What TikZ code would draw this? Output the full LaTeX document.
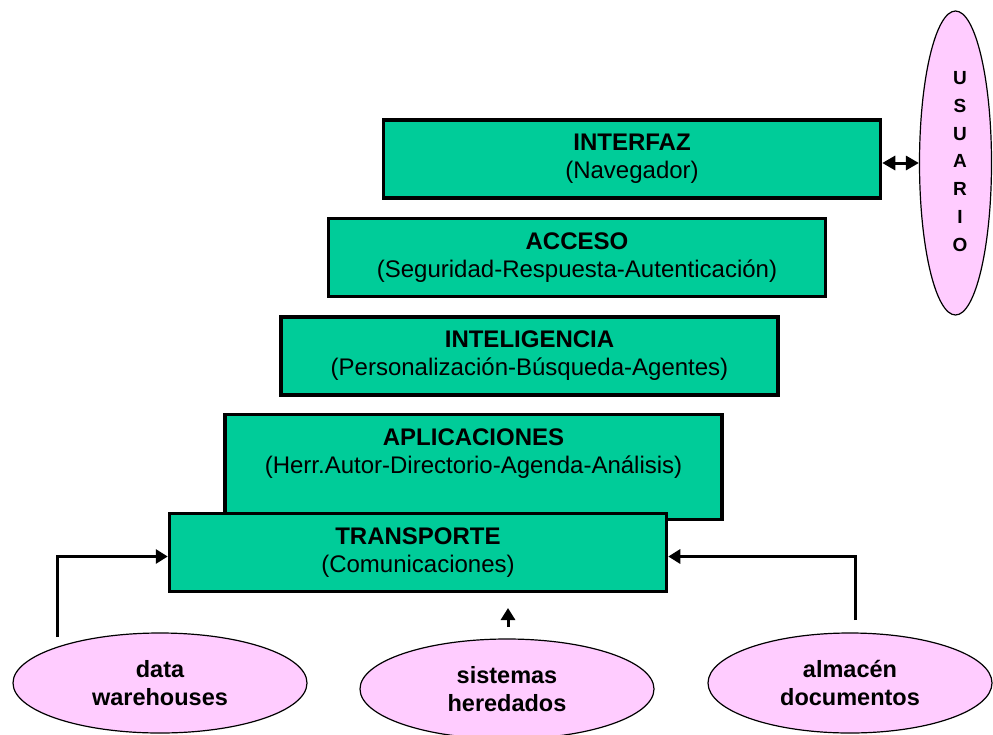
\documentclass[tikz,border=0pt]{standalone}
\usepackage{fontspec}
\setmainfont{Liberation Sans}
\usetikzlibrary{arrows.meta,shapes.geometric}
\definecolor{layergreen}{HTML}{00CC99}
\definecolor{pinkfill}{HTML}{FFCCFF}
\begin{document}
\begin{tikzpicture}[x=1pt,y=-1pt,
  layer/.style={draw=black, line width=3.5pt, fill=layergreen, rectangle, inner sep=0pt,
    minimum width=497pt, minimum height=78pt, align=center,
    font=\fontsize{24}{28}\selectfont},
  layertext/.style={align=center, inner sep=0pt, font=\fontsize{24}{28}\selectfont},
  src/.style={ellipse, draw=black, line width=1.2pt, fill=pinkfill, inner sep=0pt,
    minimum width=294pt, minimum height=100pt, align=center,
    font=\fontsize{23.5}{28}\selectfont\bfseries},
  conn/.style={line width=3pt, -{Triangle[length=12pt,width=14pt]}},
  dconn/.style={line width=3pt, {Triangle[length=13pt,width=14pt]}-{Triangle[length=13pt,width=14pt]}},
]
\useasboundingbox (0,0) rectangle (993,734);

% layers
\node[layer] (interfaz) at (632,159) {{\bfseries INTERFAZ}\\(Navegador)};
\node[layer] (acceso) at (577,257.5) {{\bfseries ACCESO}\\(Seguridad-Respuesta-Autenticación)};
\node[layer] (intel) at (529.5,356) {{\bfseries INTELIGENCIA}\\(Personalización-Búsqueda-Agentes)};
\node[layer, minimum height=105pt] (apl) at (473.5,467) {};
\node[layertext] (aplt) at (473.5,454) {{\bfseries APLICACIONES}\\(Herr.Autor-Directorio-Agenda-Análisis)};
\node[layer] (trans) at (418,552.5) {{\bfseries TRANSPORTE}\\(Comunicaciones)};

% user
\node[ellipse, draw=black, line width=1.2pt, fill=pinkfill, minimum width=72pt, minimum height=304pt, inner sep=0pt] (usuario) at (955.5,163) {};
\node[align=center, inner sep=0pt, font=\fontsize{19}{27.8}\selectfont\bfseries] (usuariot) at (960,161.5) {U\\S\\U\\A\\R\\I\\O};
\draw[dconn] ([yshift=-4pt]interfaz.east) -- (usuario.west);

% sources
\node[src] (dw) at (160,683) {data\\warehouses};
\node[src] (sis) at (507,689) {sistemas\\heredados};
\node[src, minimum width=284pt] (alm) at (850,683) {almacén\\documentos};

\coordinate (dwtail) at (57,637);
\coordinate (almtail) at (855,620);
\coordinate (sistail) at (508,627);
\coordinate (sistip) at (508,608);
\draw[conn] (dwtail) |- ([yshift=-4pt]trans.west);
\draw[conn] (almtail) |- ([yshift=-4pt]trans.east);
\draw[conn] (sistail) -- (sistip);
\end{tikzpicture}
\end{document}
